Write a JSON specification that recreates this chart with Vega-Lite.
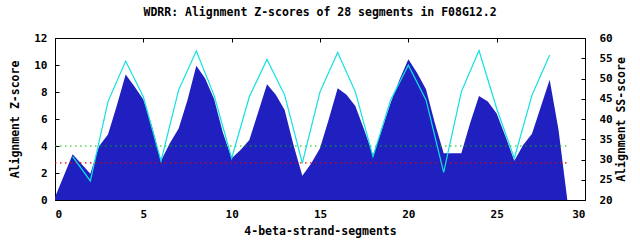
{
  "$schema": "https://vega.github.io/schema/vega-lite/v6.json",
  "width": 530,
  "height": 162,
  "autosize": {"type": "none"},
  "padding": {"left": 55, "right": 55, "top": 38, "bottom": 40},
  "background": "white",
  "title": {
    "text": "WDRR: Alignment Z-scores of 28 segments in F08G12.2",
    "font": "DejaVu Sans Mono",
    "fontSize": 11.5,
    "fontWeight": "bold",
    "color": "black",
    "offset": 14,
    "anchor": "middle"
  },
  "datasets": {
    "z": [
      {"seg": 0, "z": 0.2}, {"seg": 1, "z": 3.38}, {"seg": 1.5, "z": 2.67}, {"seg": 2, "z": 1.95},
      {"seg": 2.5, "z": 4.0}, {"seg": 3, "z": 4.85}, {"seg": 3.5, "z": 7.0}, {"seg": 4, "z": 9.3},
      {"seg": 4.5, "z": 8.4}, {"seg": 5, "z": 7.45}, {"seg": 5.5, "z": 5.4}, {"seg": 6, "z": 2.9},
      {"seg": 6.5, "z": 4.2}, {"seg": 7, "z": 5.3}, {"seg": 7.5, "z": 7.4}, {"seg": 8, "z": 9.95},
      {"seg": 8.5, "z": 9.0}, {"seg": 9, "z": 7.5}, {"seg": 9.5, "z": 5.0}, {"seg": 10, "z": 3.1},
      {"seg": 10.5, "z": 3.7}, {"seg": 11, "z": 4.45}, {"seg": 11.5, "z": 6.5}, {"seg": 12, "z": 8.57},
      {"seg": 12.5, "z": 7.8}, {"seg": 13, "z": 6.67}, {"seg": 13.5, "z": 4.07}, {"seg": 14, "z": 1.8},
      {"seg": 14.5, "z": 2.7}, {"seg": 15, "z": 3.83}, {"seg": 15.5, "z": 6.0}, {"seg": 16, "z": 8.27},
      {"seg": 16.5, "z": 7.8}, {"seg": 17, "z": 6.96}, {"seg": 17.5, "z": 5.2}, {"seg": 18, "z": 3.33},
      {"seg": 18.5, "z": 5.2}, {"seg": 19, "z": 7.2}, {"seg": 19.5, "z": 8.9}, {"seg": 20, "z": 10.42},
      {"seg": 20.5, "z": 9.4}, {"seg": 21, "z": 8.2}, {"seg": 21.5, "z": 5.7}, {"seg": 22, "z": 3.46},
      {"seg": 23, "z": 3.46}, {"seg": 23.5, "z": 5.7}, {"seg": 24, "z": 7.7}, {"seg": 24.5, "z": 7.3},
      {"seg": 25, "z": 6.4}, {"seg": 25.5, "z": 4.7}, {"seg": 26, "z": 2.9}, {"seg": 26.5, "z": 4.07},
      {"seg": 27, "z": 4.9}, {"seg": 27.5, "z": 6.9}, {"seg": 28, "z": 8.9}, {"seg": 28.5, "z": 5.2},
      {"seg": 29, "z": 0}
    ],
    "ss": [
      {"seg": 1, "ss": 30.7}, {"seg": 2, "ss": 24.7}, {"seg": 3, "ss": 44.3}, {"seg": 4, "ss": 54.3},
      {"seg": 5, "ss": 45.5}, {"seg": 6, "ss": 29.6}, {"seg": 7, "ss": 47.2}, {"seg": 8, "ss": 56.8},
      {"seg": 9, "ss": 45.9}, {"seg": 10, "ss": 30.3}, {"seg": 11, "ss": 45.5}, {"seg": 12, "ss": 54.7},
      {"seg": 13, "ss": 45.9}, {"seg": 14, "ss": 29.1}, {"seg": 15, "ss": 46.7}, {"seg": 16, "ss": 56.4},
      {"seg": 17, "ss": 46.7}, {"seg": 18, "ss": 30.7}, {"seg": 19, "ss": 44.7}, {"seg": 20, "ss": 53.3},
      {"seg": 21, "ss": 44.7}, {"seg": 22, "ss": 26.8}, {"seg": 23, "ss": 46.7}, {"seg": 24, "ss": 56.9},
      {"seg": 25, "ss": 42.6}, {"seg": 26, "ss": 30.3}, {"seg": 27, "ss": 45.9}, {"seg": 28, "ss": 55.8}
    ],
    "refs": [
      {"name": "green", "z": 4, "from": 0, "to": 29},
      {"name": "red", "z": 2.75, "from": 0, "to": 29}
    ]
  },
  "layer": [
    {
      "data": {"name": "z"},
      "mark": {"type": "area", "color": "#2020c0", "opacity": 1},
      "encoding": {
        "x": {
          "field": "seg", "type": "quantitative",
          "scale": {"domain": [0, 30], "nice": false, "zero": false},
          "axis": {"orient": "bottom", "values": [0, 5, 10, 15, 20, 25, 30], "title": "4-beta-strand-segments", "labelPadding": 12, "titlePadding": 6}
        },
        "y": {
          "field": "z", "type": "quantitative",
          "scale": {"domain": [0, 12], "nice": false},
          "axis": {"orient": "left", "values": [0, 2, 4, 6, 8, 10, 12], "title": "Alignment Z-score", "labelPadding": 12, "titlePadding": 13}
        }
      }
    },
    {
      "data": {"name": "refs"},
      "mark": {"type": "rule", "strokeDash": [1.5, 3.5], "strokeWidth": 1.2},
      "encoding": {
        "x": {"field": "from", "type": "quantitative", "scale": {"domain": [0, 30], "nice": false, "zero": false}, "axis": null},
        "x2": {"field": "to"},
        "y": {"field": "z", "type": "quantitative", "scale": {"domain": [0, 12], "nice": false}, "axis": null},
        "color": {"field": "name", "type": "nominal", "scale": {"domain": ["green", "red"], "range": ["#00c000", "#e00000"]}, "legend": null}
      }
    },
    {
      "data": {"name": "ss"},
      "mark": {"type": "line", "color": "#10e0e0", "strokeWidth": 1.2},
      "encoding": {
        "x": {
          "field": "seg", "type": "quantitative",
          "scale": {"domain": [0, 30], "nice": false, "zero": false},
          "axis": {"orient": "top", "values": [0, 5, 10, 15, 20, 25, 30], "labels": false, "title": null}
        },
        "y": {
          "field": "ss", "type": "quantitative",
          "scale": {"domain": [20, 60], "nice": false, "zero": false},
          "axis": {"orient": "right", "values": [20, 25, 30, 35, 40, 45, 50, 55, 60], "title": "Alignment SS-score", "titleAngle": 270, "labelPadding": 18, "titlePadding": 14}
        }
      }
    }
  ],
  "resolve": {"scale": {"y": "independent"}, "axis": {"x": "independent", "y": "independent"}},
  "config": {
    "view": {"stroke": "black", "strokeWidth": 1},
    "axis": {
      "grid": false,
      "domain": false,
      "tickSize": -4,
      "tickColor": "black",
      "tickWidth": 1,
      "labelFont": "DejaVu Sans Mono",
      "labelFontSize": 11,
      "labelFontWeight": "bold",
      "labelColor": "black",
      "titleFont": "DejaVu Sans Mono",
      "titleFontSize": 11.5,
      "titleFontWeight": "bold",
      "titleColor": "black"
    }
  }
}
